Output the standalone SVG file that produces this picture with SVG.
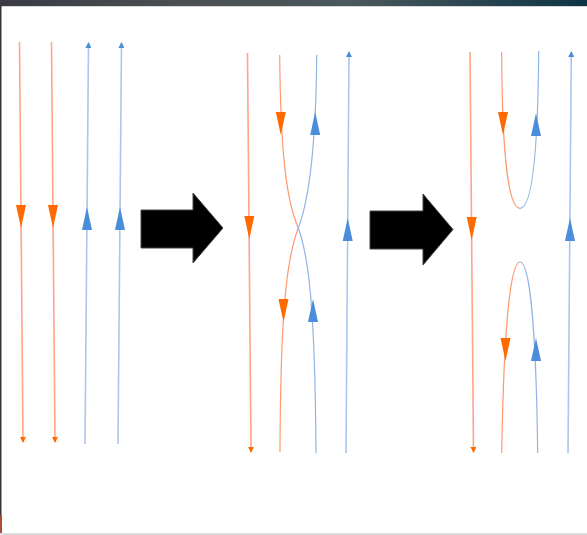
<svg xmlns="http://www.w3.org/2000/svg" width="587" height="535" viewBox="0 0 587 535">
<defs>
<linearGradient id="topband" x1="0" y1="0" x2="1" y2="0">
<stop offset="0" stop-color="#3a3b44"/>
<stop offset="0.3" stop-color="#4b4f52"/>
<stop offset="0.6" stop-color="#4a585c"/>
<stop offset="1" stop-color="#0d3546"/>
</linearGradient>
<marker id="mo" viewBox="0 0 6 6" refX="5" refY="3" markerWidth="6" markerHeight="6" markerUnits="userSpaceOnUse" orient="auto">
<path d="M0,0 L6,3 L0,6 Z" fill="#ff6a00"/>
</marker>
<marker id="mb" viewBox="0 0 6 6" refX="5" refY="3" markerWidth="6" markerHeight="6" markerUnits="userSpaceOnUse" orient="auto">
<path d="M0,0 L6,3 L0,6 Z" fill="#4a8ddb"/>
</marker>
<path id="hd" d="M-5,0 L5,0 L0,23 Z"/>
<path id="hu" d="M-5,23 L5,23 L0,0 Z"/>
</defs>
<style>
.so{fill:none;stroke:#ffa586;stroke-width:1.6}
.sb{fill:none;stroke:#a9c6ee;stroke-width:1.6}
.co{fill:none;stroke:#ff9a70;stroke-width:1.2}
.cb{fill:none;stroke:#8fb4e6;stroke-width:1.2}
.ao{fill:#ff6a00}
.ab{fill:#4a8ddb}
.big{fill:#000;stroke:#444;stroke-width:1}
</style>
<rect x="0" y="0" width="587" height="535" fill="#ffffff"/>
<rect x="0" y="0" width="587" height="6" fill="url(#topband)"/>
<rect x="0" y="6" width="587" height="1" fill="#d8d8d8"/>
<rect x="0" y="6" width="1.5" height="529" fill="#3b3232"/>
<rect x="0" y="515" width="2" height="20" fill="#b04a3a"/>
<rect x="0" y="533" width="587" height="2" fill="#dcdcdc"/>

<g id="connectors">
<!-- panel 1 -->
<line class="so" x1="19.5" y1="42" x2="23" y2="442" marker-end="url(#mo)"/>
<line class="so" x1="51.5" y1="42" x2="55" y2="442" marker-end="url(#mo)"/>
<line class="sb" x1="85" y1="444" x2="88.5" y2="43" marker-end="url(#mb)"/>
<line class="sb" x1="118" y1="444" x2="121.5" y2="43" marker-end="url(#mb)"/>
<!-- panel 2 -->
<line class="so" x1="247.5" y1="53" x2="251" y2="452" marker-end="url(#mo)"/>
<line class="sb" x1="346" y1="453" x2="349" y2="52" marker-end="url(#mb)"/>
<path class="co" d="M279.7,55 C280.5,150 286,200 298.3,228"/>
<path class="cb" d="M316.7,55 C316,150 309,200 298.3,228"/>
<path class="co" d="M298.3,228 C288,255 280.5,300 280,452"/>
<path class="cb" d="M298.3,228 C308,255 315,300 316,453"/>
<!-- panel 3 -->
<line class="so" x1="470" y1="52" x2="473.5" y2="452" marker-end="url(#mo)"/>
<line class="sb" x1="568" y1="453" x2="571.3" y2="52" marker-end="url(#mb)"/>
<path class="co" d="M501.7,52 C502,150 508,208.3 520,208.3"/>
<path class="cb" d="M520,208.3 C532,208.3 538,150 538.7,51"/>
<path class="co" d="M501.7,453 C504,320 511,262 520,262"/>
<path class="cb" d="M520,262 C529,262 536,320 537.7,453"/>
</g>

<g id="arrowheads">
<use href="#hd" class="ao" x="21" y="205"/>
<use href="#hd" class="ao" x="53" y="205"/>
<use href="#hu" class="ab" x="87" y="207"/>
<use href="#hu" class="ab" x="120" y="207"/>

<use href="#hd" class="ao" x="249.3" y="216"/>
<use href="#hu" class="ab" x="347.7" y="218"/>
<use href="#hd" class="ao" x="280.8" y="112"/>
<use href="#hu" class="ab" x="315.2" y="112"/>
<use href="#hd" class="ao" x="283.5" y="299"/>
<use href="#hu" class="ab" x="313" y="299"/>

<use href="#hd" class="ao" x="471.7" y="217"/>
<use href="#hu" class="ab" x="570" y="218"/>
<use href="#hd" class="ao" x="503" y="112"/>
<use href="#hu" class="ab" x="536" y="113"/>
<use href="#hd" class="ao" x="505.5" y="338"/>
<use href="#hu" class="ab" x="536" y="338"/>
</g>

<g id="step-arrow-1">
<path class="big" d="M141,210 L193,210 L193,193 L223,228 L193,263 L193,248 L141,248 Z"/>
</g>
<g id="step-arrow-2">
<path class="big" d="M370,211 L423,211 L423,194 L453,229.5 L423,265 L423,249 L370,249 Z"/>
</g>
</svg>
